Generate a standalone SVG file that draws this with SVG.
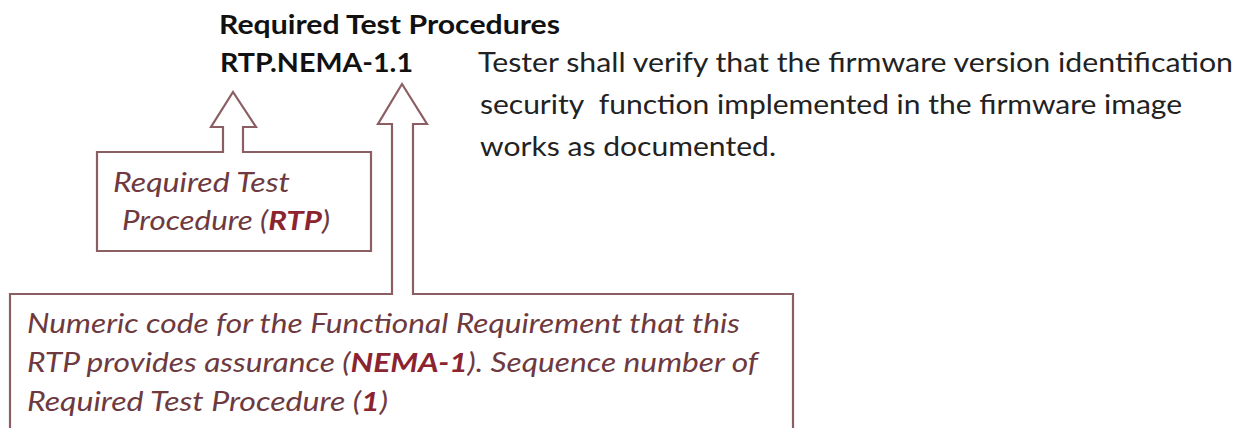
<svg xmlns="http://www.w3.org/2000/svg" width="1246" height="428" viewBox="0 0 1246 428">
<style>
.hdr{font-family:Lato,"Open Sans","Liberation Sans",sans-serif;font-weight:bold;font-size:26px;fill:#111}
.desc{font-family:Lato,"Open Sans","Liberation Sans",sans-serif;font-size:27px;fill:#222;white-space:pre}
.note{font-family:Lato,"Open Sans","Liberation Sans",sans-serif;font-style:italic;font-size:27px;fill:#6e3a40}
.note .b{font-weight:bold;fill:#8c2330}
.shape{fill:#fff;stroke:#8b5e63;stroke-width:2.2;stroke-linejoin:miter}
</style>
<rect width="1246" height="428" fill="#fff"/>
<g id="header">
<text class="hdr" x="219" y="34" textLength="341" lengthAdjust="spacingAndGlyphs">Required Test Procedures</text>
<text class="hdr" x="220" y="72" textLength="193" lengthAdjust="spacingAndGlyphs">RTP.NEMA-1.1</text>
</g>
<g id="description">
<text class="desc" x="478" y="72" textLength="755" lengthAdjust="spacingAndGlyphs">Tester shall verify that the firmware version identification</text>
<text class="desc" x="480" y="114" textLength="702" lengthAdjust="spacingAndGlyphs">security  function implemented in the firmware image</text>
<text class="desc" x="480" y="156" textLength="296" lengthAdjust="spacingAndGlyphs">works as documented.</text>
</g>
<g id="connectors">
<path class="shape" d="M10,440 V294 H392 V124 H378 L402,84 L427,124 H413 V294 H793 V440"/>
<path class="shape" d="M97,251 V152 H223 V127 H211 L233,92 L256,127 H243 V152 H371 V251 Z"/>
</g>
<g id="rtp-box">
<text class="note" x="113" y="192" textLength="177" lengthAdjust="spacingAndGlyphs">Required Test</text>
<text class="note" x="122" y="230" textLength="208" lengthAdjust="spacingAndGlyphs">Procedure (<tspan class="b">RTP</tspan>)</text>
</g>
<g id="code-box">
<text class="note" x="27" y="333" textLength="713" lengthAdjust="spacingAndGlyphs">Numeric code for the Functional Requirement that this</text>
<text class="note" x="27" y="372" textLength="731" lengthAdjust="spacingAndGlyphs">RTP provides assurance (<tspan class="b">NEMA-1</tspan>). Sequence number of</text>
<text class="note" x="27" y="411" textLength="361" lengthAdjust="spacingAndGlyphs">Required Test Procedure (<tspan class="b">1</tspan>)</text>
</g>
</svg>
